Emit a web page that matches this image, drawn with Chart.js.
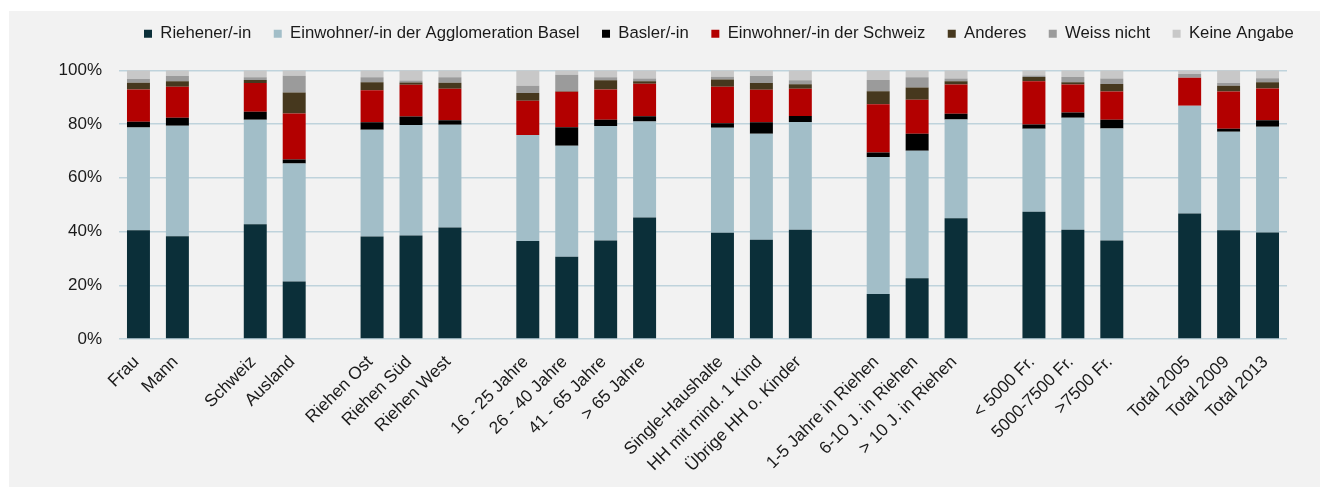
<!DOCTYPE html>
<html>
<head>
<meta charset="utf-8">
<script src="https://cdn.jsdelivr.net/npm/chart.js@4/dist/chart.umd.min.js"></script>
<style>
  html, body { margin: 0; padding: 0; background: #ffffff; }
  body { width: 1320px; height: 487px; position: relative; overflow: hidden; }
  #panel { position: absolute; left: 9px; top: 11px; width: 1311px; height: 476px; background: #f2f2f2; }
  #wrap { position: absolute; left: 0; top: 3px; width: 1320px; height: 484px; }
</style>
</head>
<body>
<div id="panel"></div>
<div id="wrap"><canvas id="c" width="1320" height="484"></canvas></div>
<script>
const categories = ['Frau', 'Mann', '', 'Schweiz', 'Ausland', '', 'Riehen Ost', 'Riehen Süd', 'Riehen West', '',
  '16 - 25 Jahre', '26 - 40 Jahre', '41 - 65 Jahre', '> 65 Jahre', '',
  'Single-Haushalte', 'HH mit mind. 1 Kind', 'Übrige HH o. Kinder', '',
  '1-5 Jahre in Riehen', '6-10 J. in Riehen', '> 10 J. in Riehen', '',
  '< 5000 Fr.', '5000-7500 Fr.', '>7500 Fr.', '',
  'Total 2005', 'Total 2009', 'Total 2013'];

const seriesNames = ['Riehener/-in', 'Einwohner/-in der Agglomeration Basel', 'Basler/-in',
  'Einwohner/-in der Schweiz', 'Anderes', 'Weiss nicht', 'Keine Angabe'];

const riehener = [40.5, 38.2, null, 42.7, 21.4, null, 38.1, 38.5, 41.5, null, 36.5, 30.6, 36.6, 45.2, null, 39.5, 36.9, 40.6, null, 16.7, 22.6, 44.9, null, 47.3, 40.6, 36.6, null, 46.7, 40.5, 39.6];
const agglomeration = [38.2, 41.1, null, 38.9, 43.9, null, 39.7, 41.1, 38.2, null, 39.4, 41.3, 42.6, 35.7, null, 39.1, 39.5, 40.1, null, 51.0, 47.4, 36.8, null, 30.9, 41.7, 41.7, null, 40.1, 36.6, 39.4];
const basler = [2.1, 3.0, null, 2.9, 1.5, null, 2.8, 3.2, 1.7, null, 0, 6.9, 2.4, 2.0, null, 1.7, 4.2, 2.3, null, 1.7, 6.4, 2.1, null, 1.6, 2.0, 3.3, null, 0, 1.1, 2.4];
const schweiz = [12.0, 11.5, null, 10.7, 17.1, null, 11.9, 11.8, 11.7, null, 12.7, 13.2, 11.2, 12.1, null, 13.5, 12.1, 10.1, null, 17.9, 12.6, 10.9, null, 16.1, 10.4, 10.5, null, 10.4, 13.9, 11.8];
const anderes = [2.5, 2.1, null, 1.2, 7.8, null, 3.0, 0.8, 2.2, null, 2.9, 0.2, 3.5, 0.9, null, 2.7, 2.5, 1.7, null, 4.9, 4.6, 1.2, null, 1.6, 0.8, 2.8, null, 0, 2.1, 2.3];
const weissNicht = [1.4, 1.9, null, 1.0, 6.2, null, 1.9, 0.8, 2.1, null, 2.7, 6.1, 1.1, 1.0, null, 1.1, 2.6, 1.5, null, 4.2, 3.8, 1.0, null, 0.5, 2.0, 2.0, null, 1.4, 1.0, 1.5];
const keineAngabe = [3.3, 2.2, null, 2.6, 2.1, null, 2.6, 3.8, 2.6, null, 5.8, 1.7, 2.6, 3.1, null, 2.4, 2.2, 3.7, null, 3.6, 2.6, 3.1, null, 2.0, 2.5, 3.1, null, 1.4, 4.8, 3.0];

const yTicks = [0, 20, 40, 60, 80, 100];

const colors = ['#0b2f39', '#a2bec8', '#000000', '#b30000', '#46381e', '#9b9b9b', '#c8c8c8'];
const values = [riehener, agglomeration, basler, schweiz, anderes, weissNicht, keineAngabe];

const datasets = seriesNames.map((name, i) => ({
  label: name,
  data: values[i],
  backgroundColor: colors[i],
  borderWidth: 0,
  barPercentage: 0.59,
  categoryPercentage: 1.0
}));

const layoutPlugin = {
  id: 'layoutTweaks',
  beforeLayout(chart) {
    const lg = chart.legend;
    if (lg && !lg._patched) {
      const orig = lg.fit;
      lg.fit = function () { orig.call(this); this.height += 18; };
      lg._patched = true;
    }
  },
  afterLayout(chart) {
    const lg = chart.legend;
    if (lg) { lg.left = 121.5; lg.right = 1600; }
  }
};

const FONT = "'Liberation Sans', Arial, sans-serif";

new Chart(document.getElementById('c'), {
  type: 'bar',
  data: { labels: categories, datasets },
  plugins: [layoutPlugin],
  options: {
    responsive: false,
    animation: false,
    layout: { padding: { left: 0, right: 33, top: 0, bottom: 0 } },
    plugins: {
      legend: {
        position: 'top',
        align: 'start',
        labels: {
          boxWidth: 8,
          boxHeight: 8,
          padding: 22.5,
          color: '#1a1a1a',
          font: { family: FONT, size: 16.7 }
        }
      },
      tooltip: { enabled: false }
    },
    scales: {
      x: {
        stacked: true,
        grid: { display: false, drawTicks: false },
        border: { display: false },
        ticks: {
          autoSkip: false,
          maxRotation: 45,
          minRotation: 45,
          padding: 13,
          labelOffset: -2,
          color: '#1a1a1a',
          font: { family: FONT, size: 17.3 }
        },
        afterFit(scale) { scale.height = 148; }
      },
      y: {
        stacked: true,
        min: 0,
        max: 100,
        afterBuildTicks(scale) { scale.ticks = yTicks.map(v => ({ value: v })); },
        grid: { color: '#bfd3dc', lineWidth: 1.4, drawTicks: false },
        border: { display: false },
        ticks: {
          padding: 17,
          color: '#1a1a1a',
          font: { family: FONT, size: 17 },
          callback: (v) => v + '%'
        },
        afterFit(scale) { scale.width = 119; }
      }
    }
  }
});
</script>
</body>
</html>
